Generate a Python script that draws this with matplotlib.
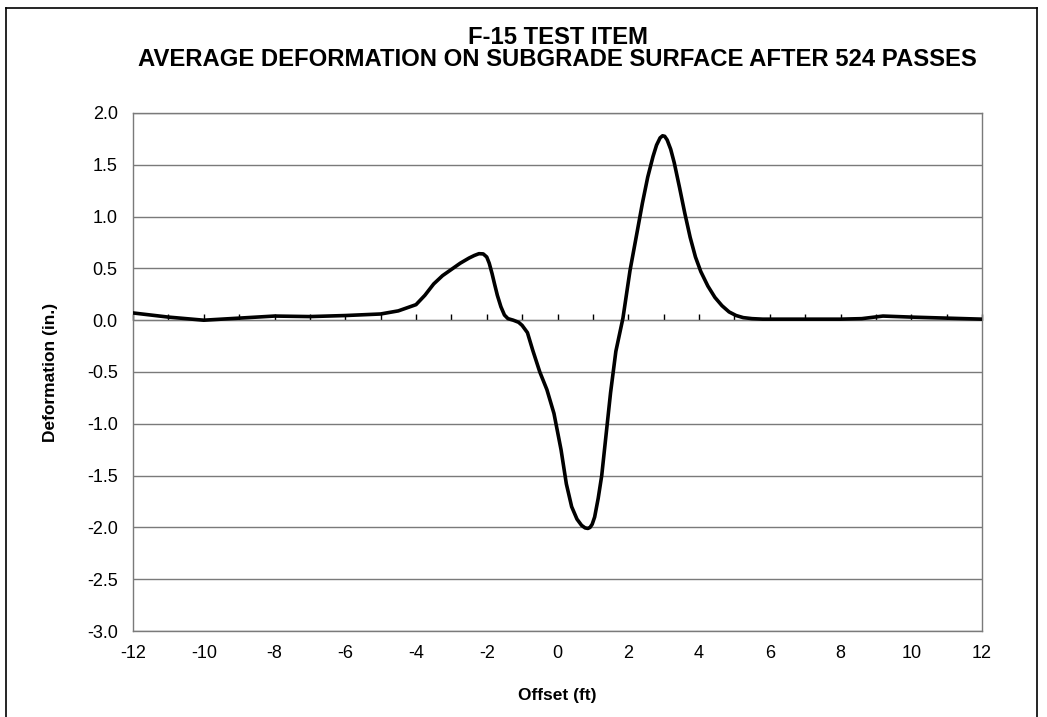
import matplotlib
matplotlib.use("Agg")
import matplotlib.pyplot as plt
from matplotlib.lines import Line2D

# Offset (ft) vs. average deformation (in.)
offset_ft = [
    -12.0, -11.0, -10.0, -9.0, -8.0, -7.0, -6.0, -5.0, -4.5, -4.0,
    -3.75, -3.5, -3.25, -3.0, -2.75, -2.5, -2.35, -2.22, -2.1, -2.0,
    -1.93, -1.85, -1.78, -1.7, -1.6, -1.5, -1.4, -1.25, -1.1, -1.0,
    -0.85, -0.7, -0.5, -0.3, -0.1, 0.1, 0.25, 0.4, 0.55, 0.68,
    0.78, 0.86, 0.92, 0.98, 1.05, 1.15, 1.25, 1.35, 1.5, 1.65,
    1.85, 2.05, 2.25, 2.4, 2.55, 2.7, 2.8, 2.9, 2.97, 3.03,
    3.1, 3.2, 3.3, 3.45, 3.6, 3.75, 3.9, 4.05, 4.25, 4.45,
    4.65, 4.85, 5.05, 5.25, 5.5, 5.8, 6.2, 7.0, 8.0, 8.6,
    9.2, 10.0, 11.0, 12.0,
]
deformation_in = [
    0.07, 0.03, 0.00, 0.02, 0.04, 0.035, 0.045, 0.06, 0.09, 0.15,
    0.24, 0.35, 0.43, 0.49, 0.55, 0.60, 0.625, 0.642, 0.64, 0.61,
    0.55, 0.45, 0.35, 0.24, 0.13, 0.05, 0.015, 0.00, -0.02, -0.05,
    -0.12, -0.29, -0.50, -0.67, -0.90, -1.25, -1.58, -1.80, -1.92, -1.98,
    -2.005, -2.01, -2.0, -1.97, -1.9, -1.72, -1.50, -1.18, -0.70, -0.30,
    0.02, 0.48, 0.85, 1.13, 1.38, 1.58, 1.69, 1.76, 1.78, 1.775,
    1.74, 1.65, 1.52, 1.28, 1.03, 0.80, 0.61, 0.47, 0.33, 0.22,
    0.14, 0.08, 0.045, 0.025, 0.015, 0.01, 0.01, 0.01, 0.01, 0.015,
    0.04, 0.03, 0.02, 0.01,
]

x_ticks = list(range(-12, 13, 2))
y_ticks = [-3.0, -2.5, -2.0, -1.5, -1.0, -0.5, 0.0, 0.5, 1.0, 1.5, 2.0]

plt.rcParams["font.family"] = ["Liberation Sans", "DejaVu Sans"]

fig = plt.figure(figsize=(10.47, 7.17), dpi=100)
ax = fig.add_axes([133 / 1047, 1 - 631 / 717, 849 / 1047, 518 / 717])

grid_col = "#7a7a7a"
for y in y_ticks:
    ax.axhline(y, color=grid_col, linewidth=1.0, zorder=1)

ax.plot(offset_ft, deformation_in, color="black", linewidth=2.6,
        solid_joinstyle="round", solid_capstyle="round", zorder=4)

ax.set_xlim(-12, 12)
ax.set_ylim(-3.0, 2.0)
ax.set_xticks(x_ticks)
ax.set_xticklabels([str(t) for t in x_ticks])
ax.set_yticks(y_ticks)
ax.set_yticklabels([f"{t:.1f}" for t in y_ticks])
ax.tick_params(axis="both", length=0, labelsize=13)
ax.tick_params(axis="x", pad=10)
ax.tick_params(axis="y", pad=11)
for side in ("left", "right", "top", "bottom"):
    ax.spines[side].set_color(grid_col)
    ax.spines[side].set_linewidth(1.0)

# Category axis crosses at zero: thick black line with small downward ticks
zero_ax = ax.secondary_xaxis(3.0 / 5.0)
zero_ax.set_xticks(list(range(-12, 13, 1)))
zero_ax.set_xticklabels([])
zero_ax.tick_params(direction="out", length=4, width=1.0, color="black")
zero_ax.spines["bottom"].set_linewidth(2.4)
zero_ax.spines["bottom"].set_color("black")
zero_ax.spines["bottom"].set_zorder(5)

ax.set_xlabel("Offset (ft)", fontsize=12.5, fontweight="bold", labelpad=19)
ax.set_ylabel("Deformation (in.)", fontsize=12.5, fontweight="bold", labelpad=21)

fig.text(557.5 / 1047, 1 - 38 / 717, "F-15 TEST ITEM",
         ha="center", va="center", fontsize=17.2, fontweight="bold")
fig.text(557.5 / 1047, 1 - 60 / 717,
         "AVERAGE DEFORMATION ON SUBGRADE SURFACE AFTER 524 PASSES",
         ha="center", va="center", fontsize=17.2, fontweight="bold")

# Outer chart-area border
bx0, bx1, by1 = 5.5 / 1047, 1037 / 1047, 1 - 7.5 / 717
for xs, ys in (([bx0, bx0], [-0.01, by1]), ([bx0, bx1], [by1, by1]),
               ([bx1, bx1], [by1, -0.01])):
    fig.add_artist(Line2D(xs, ys, transform=fig.transFigure,
                          color="black", linewidth=1.2))

fig.savefig("out.png", dpi=100)
plt.close(fig)
